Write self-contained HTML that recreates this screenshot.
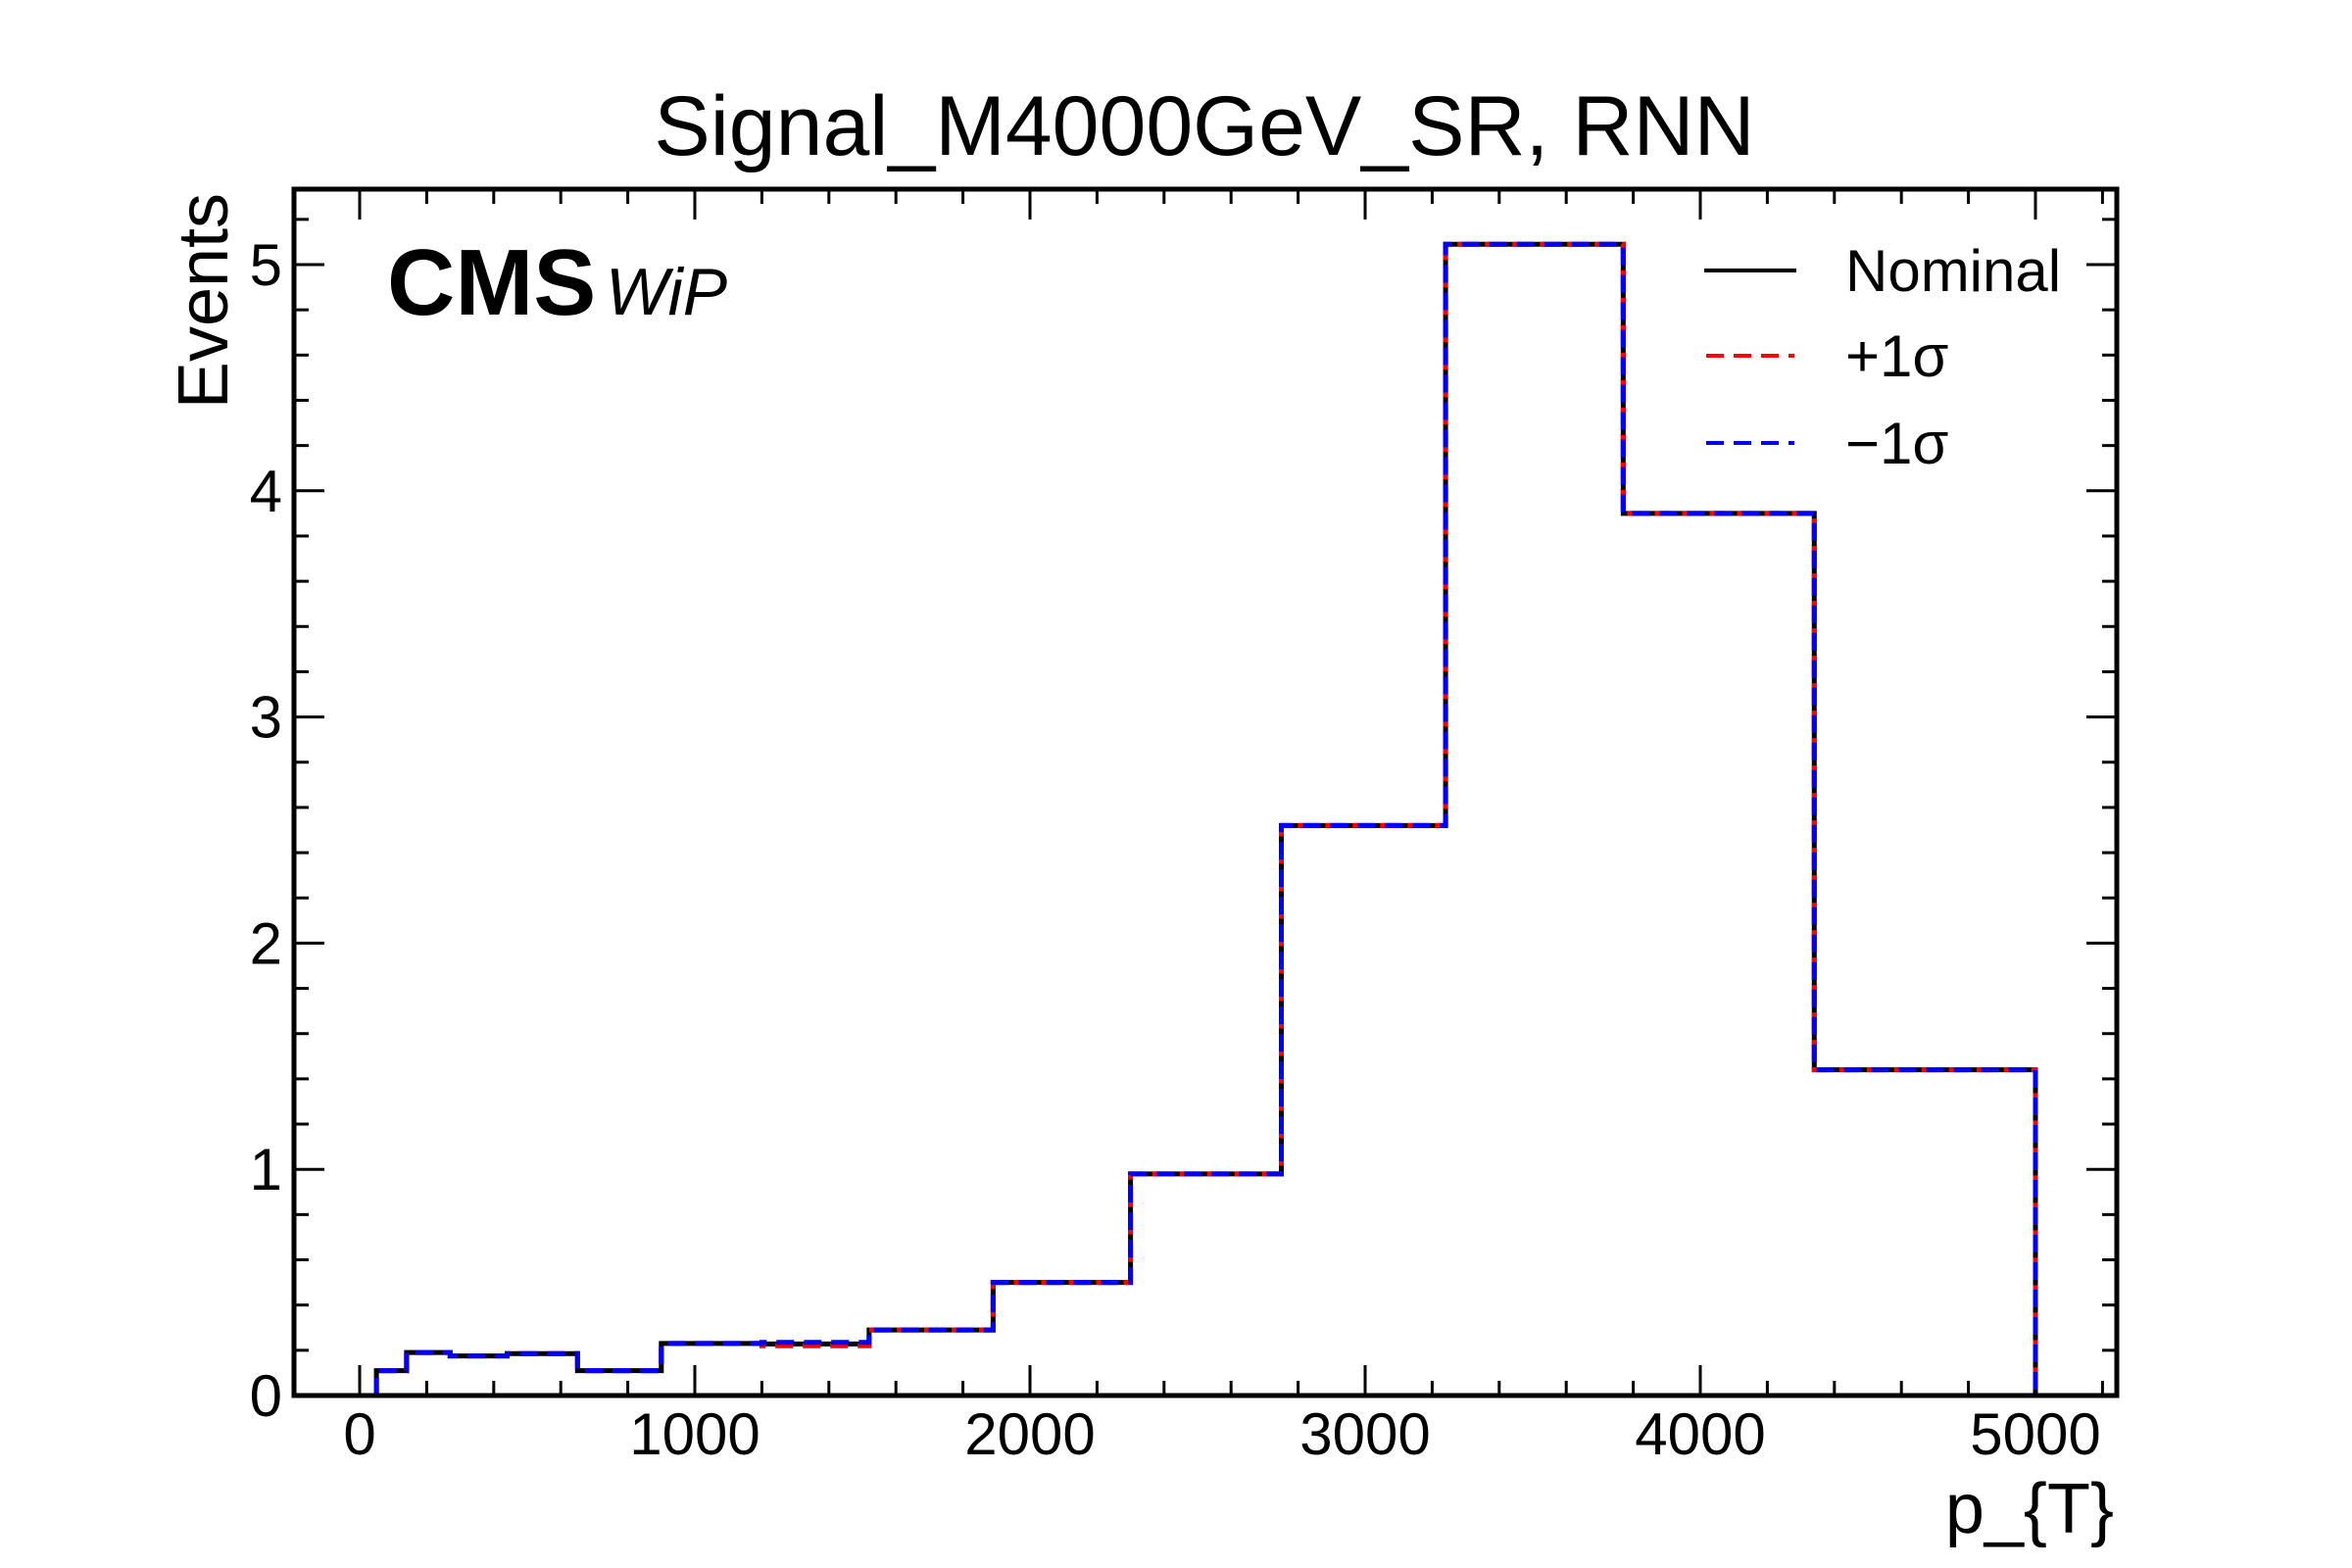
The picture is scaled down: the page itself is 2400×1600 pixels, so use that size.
<!DOCTYPE html>
<html><head><meta charset="utf-8"><style>
html,body{margin:0;padding:0;background:#fff;}
svg{display:block;font-family:"Liberation Sans",sans-serif;}
</style></head><body>
<svg id="chart" width="2400" height="1600" viewBox="0 0 2400 1600">
<rect width="2400" height="1600" fill="#fff"/>
<text x="1229" y="158" font-size="86" text-anchor="middle">Signal_M4000GeV_SR, RNN</text>
<g id="ticks"></g>
<g id="series"></g>
<rect x="300" y="193" width="1860" height="1231" fill="none" stroke="#000" stroke-width="5"/>
<text x="395" y="321" font-size="96" font-weight="bold">CMS</text>
<text x="618" y="321" font-size="68" font-style="italic">WiP</text>
<text transform="translate(232,307) rotate(-90)" font-size="72" text-anchor="middle">Events</text>
<text x="2157" y="1564" font-size="72" text-anchor="end">p_{T}</text>
<g>
<line x1="1739" y1="276" x2="1833" y2="276" stroke="#000" stroke-width="4"/>
<text x="1883" y="297" font-size="60">Nominal</text>
<line x1="1741" y1="363" x2="1831" y2="363" stroke="#f00" stroke-width="4" stroke-dasharray="18,10"/>
<text x="1883" y="384" font-size="60">+1σ</text>
<line x1="1741" y1="452" x2="1831" y2="452" stroke="#00f" stroke-width="4" stroke-dasharray="18,10"/>
<text x="1883" y="473" font-size="60">−1σ</text>
</g>
</svg>
<script>
const binEdges = [50,140,270,440,650,900,1200,1520,1890,2300,2750,3240,3770,4340,5000];
const nominal = [0.11,0.19,0.175,0.185,0.11,0.23,0.228,0.29,0.50,0.98,2.52,5.09,3.90,1.44];
const upSigma = [0.11,0.19,0.175,0.185,0.11,0.23,0.22,0.29,0.50,0.98,2.52,5.09,3.90,1.44];
const downSigma = [0.11,0.19,0.175,0.185,0.11,0.23,0.235,0.29,0.50,0.98,2.52,5.09,3.90,1.44];
const xTickLabels = [0,1000,2000,3000,4000,5000];
const yTickLabels = [0,1,2,3,4,5];

const NS="http://www.w3.org/2000/svg";
const L=300,R=2160,T=193,B=1424;
const xS=v=>367+v*0.342;
const yS=v=>B-v*230.8;
const tk=document.getElementById('ticks');
function ln(x1,y1,x2,y2,w){const l=document.createElementNS(NS,'line');l.setAttribute('x1',x1);l.setAttribute('y1',y1);l.setAttribute('x2',x2);l.setAttribute('y2',y2);l.setAttribute('stroke','#000');l.setAttribute('stroke-width',w);tk.appendChild(l);return l;}
for(let v=-200;v<=5200;v+=200){
  const x=xS(v); if(x<L||x>R) continue;
  const major=v%1000===0; const len=major?31:15;
  const a=ln(x,B,x,B-len,3);
  
  
  const b=ln(x,T,x,T+len,3);
  
  
}
for(let i=0;i<=26;i++){
  const v=i*0.2; const y=yS(v); if(y<T) continue;
  const major=i%5===0; const len=major?31:15;
  const a=ln(L,y,L+len,y,3);
  
  
  const b=ln(R,y,R-len,y,3);
  
  
}
xTickLabels.forEach(v=>{const t=document.createElementNS(NS,'text');t.setAttribute('x',xS(v));t.setAttribute('y',1484);t.setAttribute('font-size','60');t.setAttribute('text-anchor','middle');t.textContent=v;


tk.appendChild(t);});
yTickLabels.forEach(v=>{const t=document.createElementNS(NS,'text');t.setAttribute('x',288);t.setAttribute('y',yS(v)+21);t.setAttribute('font-size','60');t.setAttribute('text-anchor','end');t.textContent=v;


tk.appendChild(t);});
function stepPath(vals){let d='M'+xS(binEdges[0])+','+yS(0);
  vals.forEach((v,i)=>{d+=' L'+xS(binEdges[i])+','+yS(v)+' L'+xS(binEdges[i+1])+','+yS(v);});
  d+=' L'+xS(binEdges[binEdges.length-1])+','+yS(0);return d;}
const sg=document.getElementById('series');
[[nominal,'#000',null,'series-nominal'],[upSigma,'#f00','18,10','series-up-sigma'],[downSigma,'#00f','18,10','series-down-sigma']].forEach(s=>{
  const p=document.createElementNS(NS,'path');p.setAttribute('d',stepPath(s[0]));p.setAttribute('fill','none');p.setAttribute('stroke',s[1]);p.setAttribute('stroke-width','5');
  if(s[2])p.setAttribute('stroke-dasharray',s[2]);
  
  
  sg.appendChild(p);});
</script>
</body></html>
